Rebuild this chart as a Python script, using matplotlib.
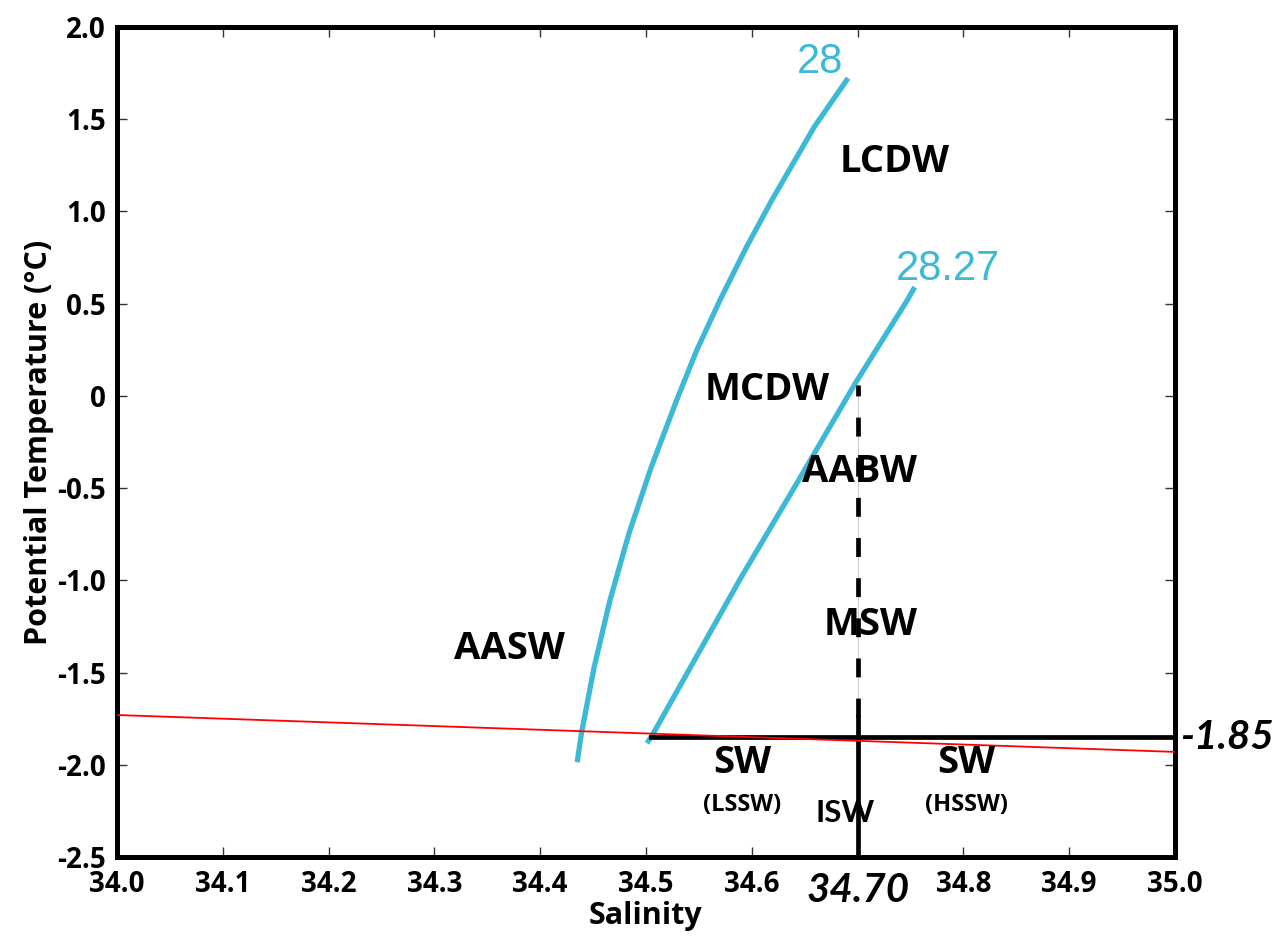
import matplotlib
matplotlib.use("Agg")
import matplotlib.pyplot as plt
import matplotlib.transforms as mtransforms

plt.rcParams['font.family'] = ['Open Sans', 'DejaVu Sans']

# Isopycnal 28 (salinity, potential temperature)
iso28_S = [34.435, 34.439, 34.451, 34.466, 34.484, 34.505, 34.529, 34.548,
           34.570, 34.595, 34.619, 34.659, 34.691]
iso28_T = [-1.986, -1.829, -1.471, -1.107, -0.744, -0.386, -0.023, 0.248,
           0.520, 0.807, 1.062, 1.458, 1.723]
# Isopycnal 28.27
iso2827_S = [34.501, 34.507, 34.551, 34.590, 34.645, 34.698, 34.746, 34.754]
iso2827_T = [-1.883, -1.829, -1.38, -0.983, -0.45, 0.07, 0.51, 0.59]

# Freezing-point line (red)
freeze_S = [34.0, 35.0]
freeze_T = [-1.73, -1.93]

# Boundaries
sw_T = -1.85
sw_S_start = 34.505
isw_S = 34.70
dash_top_T = 0.06
solid_top_T = -1.74

# Water mass labels: (text, S, T)
labels = [("LCDW", 34.735, 1.27), ("MCDW", 34.615, 0.03), ("AABW", 34.702, -0.41),
          ("MSW", 34.712, -1.24), ("AASW", 34.371, -1.37),
          ("SW", 34.591, -1.99), ("SW", 34.803, -1.99)]
sub_labels = [("(LSSW)", 34.591, -2.22), ("(HSSW)", 34.803, -2.22)]
iso_labels = [("28", 34.665, 1.81), ("28.27", 34.785, 0.69)]

xticks = [34.0, 34.1, 34.2, 34.3, 34.4, 34.5, 34.6, 34.7, 34.8, 34.9, 35.0]
xticklabels = ["34.0", "34.1", "34.2", "34.3", "34.4", "34.5", "34.6", "", "34.8", "34.9", "35.0"]
yticks = [2.0, 1.5, 1.0, 0.5, 0.0, -0.5, -1.0, -1.5, -2.0, -2.5]
yticklabels = ["2.0", "1.5", "1.0", "0.5", "0", "-0.5", "-1.0", "-1.5", "-2.0", "-2.5"]

cyan = "#3cb9d5"

fig = plt.figure(figsize=(12.85, 9.39), dpi=100)
ax = fig.add_axes([0.091, 0.0873, 0.8234, 0.8839])
ax.set_xlim(34.0, 35.0)
ax.set_ylim(-2.5, 2.0)

ax.plot(iso28_S, iso28_T, color=cyan, lw=3.8, solid_capstyle='butt',
        solid_joinstyle='round', zorder=3)
ax.plot(iso2827_S, iso2827_T, color=cyan, lw=3.8, solid_capstyle='butt',
        solid_joinstyle='round', zorder=3)

ax.plot([sw_S_start, 35.0], [sw_T, sw_T], color='black', lw=3.4, zorder=4)
ax.plot([isw_S, isw_S], [-2.5, solid_top_T], color='black', lw=3.4, zorder=4)
ax.plot([isw_S, isw_S], [solid_top_T, dash_top_T], color='#cccccc', lw=0.8, zorder=3)
ax.plot([isw_S, isw_S], [solid_top_T, dash_top_T], color='black', lw=3.4,
        dashes=(4, 4.5), zorder=4)

ax.plot(freeze_S, freeze_T, color='red', lw=1.3, zorder=5)

for t, s, T in labels:
    ax.text(s, T, t, fontsize=27.5, fontweight='bold', ha='center', va='center', zorder=6)
for t, s, T in sub_labels:
    ax.text(s, T, t, fontsize=17, fontweight='bold', ha='center', va='center', zorder=6)
for t, s, T in iso_labels:
    ax.text(s, T, t, fontsize=30, color=cyan, ha='center', va='center',
            family=['Liberation Sans', 'DejaVu Sans'], zorder=6)

ax.text(34.688, -2.26, "ISW", fontsize=22.5, fontweight='bold', ha='center', va='center',
        family=['Lato', 'DejaVu Sans'], zorder=6)

trans = mtransforms.blended_transform_factory(ax.transAxes, ax.transData)
ax.text(1.005, sw_T, "-1.85", transform=trans, fontsize=29, fontweight='bold',
        style='italic', ha='left', va='center', family=['Lato', 'DejaVu Sans'])
trans2 = mtransforms.blended_transform_factory(ax.transData, ax.transAxes)
ax.text(isw_S, -0.04, "34.70", transform=trans2, fontsize=29, fontweight='bold',
        style='italic', ha='center', va='center', family=['Lato', 'DejaVu Sans'])

ax.set_xticks(xticks)
ax.set_xticklabels(xticklabels)
ax.set_yticks(yticks)
ax.set_yticklabels(yticklabels)
ax.tick_params(direction='in', length=7, width=1.0, color='#333333',
               top=True, right=True, labelsize=20)
ax.tick_params(axis='x', pad=9)
ax.tick_params(axis='y', pad=8)
for lab in ax.get_xticklabels() + ax.get_yticklabels():
    lab.set_fontweight('bold')
for sp in ax.spines.values():
    sp.set_linewidth(3.6)

ax.set_xlabel("Salinity", fontsize=22, fontweight='bold', labelpad=2)
ax.set_ylabel("Potential Temperature (°C)", fontsize=22, fontweight='bold', labelpad=2)

fig.savefig("out.png", dpi=100)
